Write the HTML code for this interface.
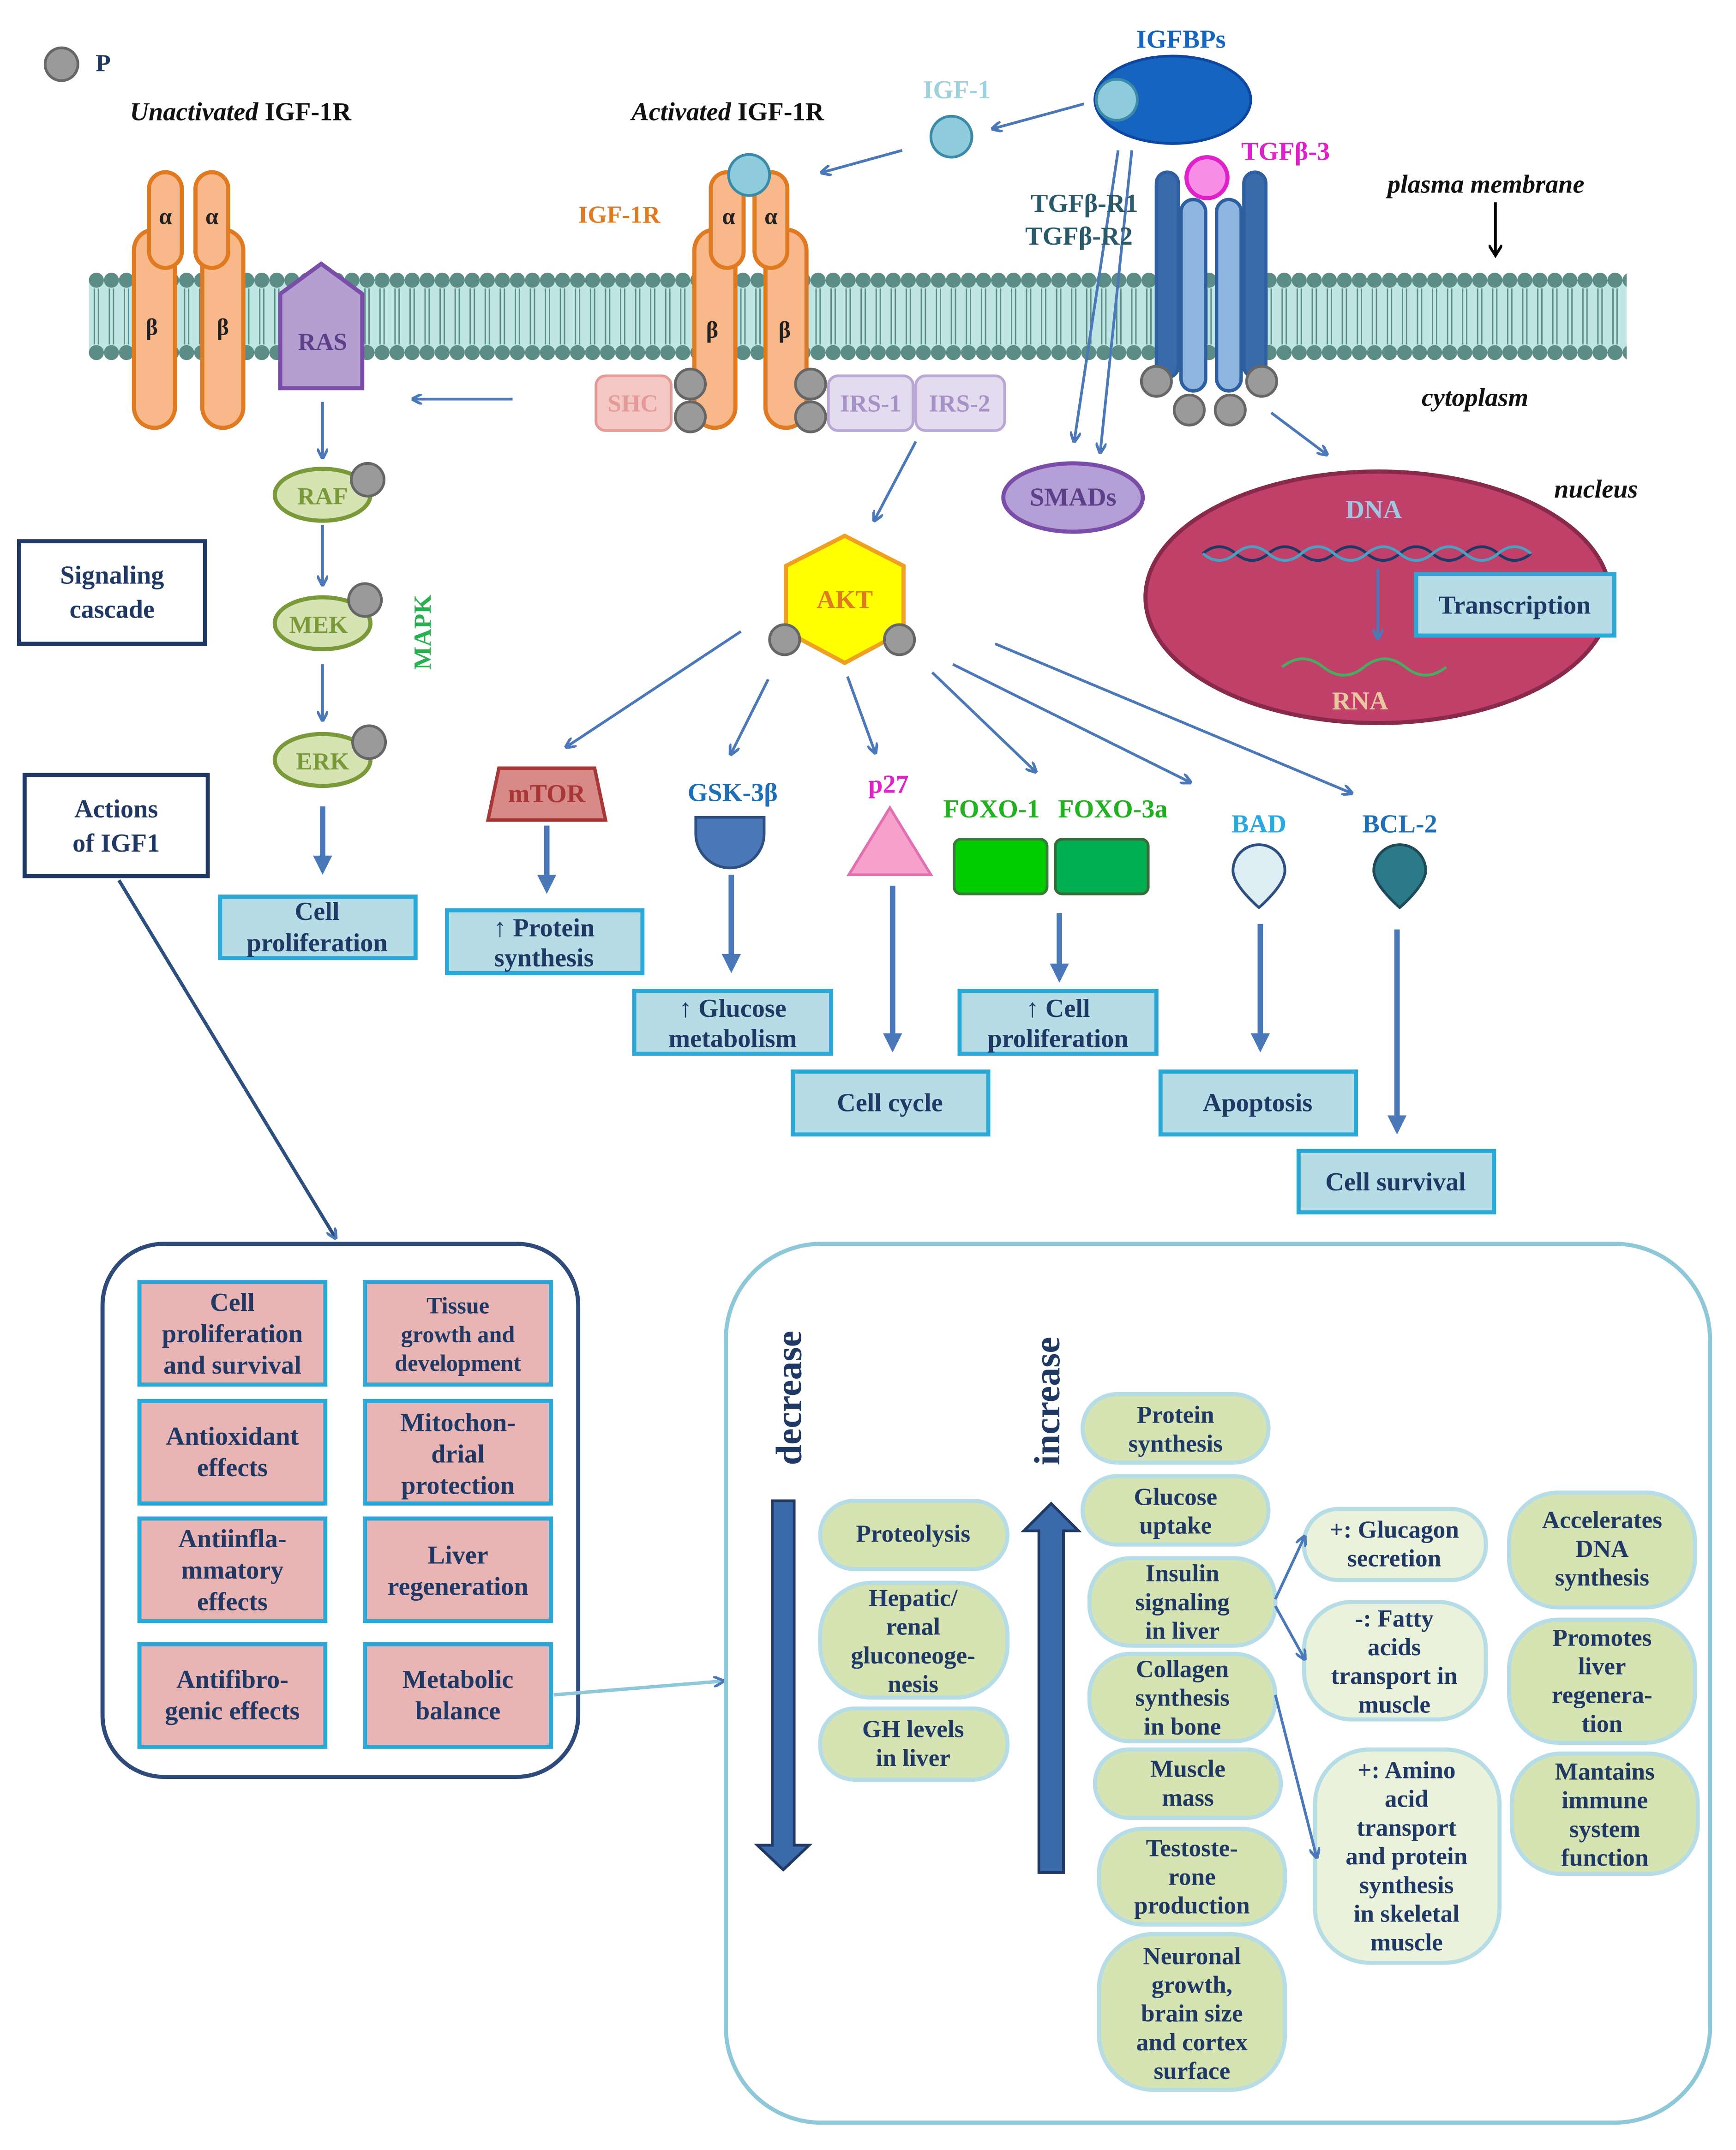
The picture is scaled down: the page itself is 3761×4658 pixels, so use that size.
<!DOCTYPE html>
<html><head><meta charset="utf-8"><style>
html,body{margin:0;padding:0;background:#fff}
svg{display:block}
text{font-family:"Liberation Serif",serif;font-weight:bold}
</style></head><body>
<svg width="3761" height="4658" viewBox="0 0 1270 1573" preserveAspectRatio="none" xmlns="http://www.w3.org/2000/svg">
<defs>
<marker id="ah" markerWidth="8" markerHeight="8" refX="6" refY="4" orient="auto" markerUnits="userSpaceOnUse"><path d="M0,0 L8,4 L0,8" fill="none" stroke="#4a78b8" stroke-width="2"/></marker>
<marker id="ab" markerWidth="14" markerHeight="14" refX="10" refY="7" orient="auto" markerUnits="userSpaceOnUse"><path d="M0,0 L14,7 L0,14 z" fill="#4a78b8"/></marker>
<marker id="ak" markerWidth="10" markerHeight="10" refX="7" refY="5" orient="auto" markerUnits="userSpaceOnUse"><path d="M0,0 L8,5 L0,10" fill="none" stroke="#000" stroke-width="2"/></marker>
<pattern id="bead" x="65" y="0" width="11" height="400" patternUnits="userSpaceOnUse">
<circle cx="5.5" cy="205" r="5.5" fill="#5c8c86"/><circle cx="5.5" cy="258" r="5.5" fill="#5c8c86"/>
<path d="M4,211 V252 M7,211 V252" stroke="#5c8c86" stroke-width="1"/>
</pattern>
</defs>
<rect x="65" y="205" width="1125" height="53" fill="#bfe6e4"/>
<rect x="65" y="198" width="1125" height="67" fill="url(#bead)"/>

<circle cx="45" cy="47" r="12" fill="#9a9a9a" stroke="#666" stroke-width="2"/>
<text x="70" y="52" font-size="18" fill="#1f3864">P</text>
<text x="95" y="88" font-size="19" fill="#111"><tspan font-style="italic">Unactivated</tspan> IGF-1R</text>
<text x="462" y="88" font-size="19" fill="#111"><tspan font-style="italic">Activated</tspan> IGF-1R</text>
<text x="1015" y="141" font-size="19" fill="#111" font-style="italic">plasma membrane</text>
<line x1="1094" y1="148" x2="1094" y2="186" stroke="#000" stroke-width="2" marker-end="url(#ak)"/>
<text x="1040" y="297" font-size="19" fill="#111" font-style="italic">cytoplasm</text>
<text x="1137" y="364" font-size="19" fill="#111" font-style="italic">nucleus</text>

<g fill="#f9b88a" stroke="#e07a20" stroke-width="3">
<rect x="98" y="168" width="30" height="145" rx="15"/><rect x="148" y="168" width="30" height="145" rx="15"/>
<rect x="109" y="126" width="24" height="70" rx="12"/><rect x="143" y="126" width="24" height="70" rx="12"/>
<rect x="508" y="168" width="30" height="145" rx="15"/><rect x="560" y="168" width="30" height="145" rx="15"/>
<rect x="520" y="126" width="24" height="70" rx="12"/><rect x="552" y="126" width="24" height="70" rx="12"/>
</g>
<g font-size="17" fill="#222" text-anchor="middle">
<text x="121" y="164">α</text><text x="155" y="164">α</text><text x="111" y="245">β</text><text x="163" y="245">β</text>
<text x="533" y="164">α</text><text x="564" y="164">α</text><text x="521" y="247">β</text><text x="574" y="247">β</text>
</g>
<circle cx="548" cy="128" r="15" fill="#8ecbdc" stroke="#3a8aa8" stroke-width="2"/>
<text x="423" y="163" font-size="18" fill="#e07a20">IGF-1R</text>
<path d="M205,215 L235,193 L265,215 L265,284 L205,284 z" fill="#b49fd0" stroke="#7a4ea8" stroke-width="3"/>
<text x="236" y="256" font-size="18" fill="#5e3f8a" text-anchor="middle">RAS</text>
<line x1="375" y1="292" x2="303" y2="292" stroke="#4a78b8" stroke-width="2" marker-end="url(#ah)"/>
<rect x="436" y="275" width="55" height="40" rx="7" fill="#f4c8c4" stroke="#e59a98" stroke-width="2"/>
<text x="463" y="301" font-size="18" fill="#e59a98" text-anchor="middle">SHC</text>
<rect x="606" y="275" width="62" height="40" rx="7" fill="#e3dcee" stroke="#b8a6d4" stroke-width="2"/>
<text x="637" y="301" font-size="18" fill="#a692c8" text-anchor="middle">IRS-1</text>
<rect x="670" y="275" width="65" height="40" rx="7" fill="#e3dcee" stroke="#b8a6d4" stroke-width="2"/>
<text x="702" y="301" font-size="18" fill="#a692c8" text-anchor="middle">IRS-2</text>
<g fill="#9a9a9a" stroke="#666" stroke-width="2">
<circle cx="505" cy="281" r="11"/><circle cx="505" cy="305" r="11"/><circle cx="593" cy="281" r="11"/><circle cx="593" cy="305" r="11"/>
</g>
<ellipse cx="858" cy="73" rx="57" ry="32" fill="#1565c0" stroke="#0d47a1" stroke-width="2"/>
<circle cx="817" cy="73" r="15" fill="#8ecbdc" stroke="#3a8aa8" stroke-width="2"/>
<text x="864" y="35" font-size="19" fill="#1565c0" text-anchor="middle">IGFBPs</text>
<circle cx="696" cy="100" r="15" fill="#8ecbdc" stroke="#3a8aa8" stroke-width="2"/>
<text x="700" y="72" font-size="19" fill="#9dd2dc" text-anchor="middle">IGF-1</text>
<line x1="793" y1="76" x2="727" y2="94" stroke="#4a78b8" stroke-width="2" marker-end="url(#ah)"/>
<line x1="660" y1="110" x2="602" y2="126" stroke="#4a78b8" stroke-width="2" marker-end="url(#ah)"/>
<line x1="818" y1="110" x2="786" y2="322" stroke="#4a78b8" stroke-width="2" marker-end="url(#ah)"/>
<line x1="828" y1="110" x2="805" y2="330" stroke="#4a78b8" stroke-width="2" marker-end="url(#ah)"/>
<g stroke="#2e5fa0" stroke-width="2.5">
<rect x="846" y="126" width="16" height="150" rx="8" fill="#3a6aaa"/>
<rect x="864" y="146" width="18" height="140" rx="9" fill="#8fb6e0"/>
<rect x="890" y="146" width="18" height="140" rx="9" fill="#8fb6e0"/>
<rect x="910" y="126" width="16" height="150" rx="8" fill="#3a6aaa"/>
</g>
<circle cx="883" cy="130" r="15" fill="#f88ee8" stroke="#e020c8" stroke-width="3"/>
<text x="908" y="117" font-size="19" fill="#e020c8">TGFβ-3</text>
<text x="754" y="155" font-size="19" fill="#2a5a6a">TGFβ-R1</text>
<text x="750" y="179" font-size="19" fill="#2a5a6a">TGFβ-R2</text>
<g fill="#9a9a9a" stroke="#666" stroke-width="2">
<circle cx="846" cy="279" r="11"/><circle cx="870" cy="300" r="11"/><circle cx="900" cy="300" r="11"/><circle cx="923" cy="279" r="11"/>
</g>
<line x1="930" y1="302" x2="970" y2="332" stroke="#4a78b8" stroke-width="2" marker-end="url(#ah)"/>
<ellipse cx="1008" cy="437" rx="170" ry="92" fill="#c0406a" stroke="#8a2a4a" stroke-width="3"/>
<text x="1005" y="379" font-size="19" fill="#9ec8e0" text-anchor="middle">DNA</text>
<path d="M880,405 q12,-10 24,0 t24,0 t24,0 t24,0 t24,0 t24,0 t24,0 t24,0 t24,0 t24,0" fill="none" stroke="#1f3864" stroke-width="2"/>
<path d="M880,405 q12,10 24,0 t24,0 t24,0 t24,0 t24,0 t24,0 t24,0 t24,0 t24,0 t24,0" fill="none" stroke="#4aa0c0" stroke-width="2"/>
<line x1="1008" y1="416" x2="1008" y2="466" stroke="#4a78b8" stroke-width="2" marker-end="url(#ah)"/>
<path d="M938,488 q15,-12 30,0 t30,0 t30,0 t30,0" fill="none" stroke="#4aaa60" stroke-width="2"/>
<text x="995" y="519" font-size="19" fill="#e8c8a0" text-anchor="middle">RNA</text>
<rect x="1036" y="420" width="145" height="45" fill="#b6dce6" stroke="#2aa8d8" stroke-width="3"/>
<text x="1108" y="449" font-size="19" fill="#1f3864" text-anchor="middle">Transcription</text>
<ellipse cx="785" cy="364" rx="51" ry="25" fill="#b4a0d6" stroke="#7a4ea8" stroke-width="3"/>
<text x="785" y="370" font-size="19" fill="#5e3f8a" text-anchor="middle">SMADs</text>
<g stroke="#4a78b8" stroke-width="2" marker-end="url(#ah)">
<line x1="236" y1="294" x2="236" y2="334"/><line x1="236" y1="384" x2="236" y2="427"/><line x1="236" y1="486" x2="236" y2="526"/>
</g>
<g fill="#d6e3b2" stroke="#7a9a3a" stroke-width="3">
<ellipse cx="236" cy="362" rx="35" ry="19"/><ellipse cx="236" cy="456" rx="35" ry="19"/><ellipse cx="236" cy="556" rx="35" ry="19"/>
</g>
<g font-size="18" fill="#7a9a3a" text-anchor="middle"><text x="236" y="369">RAF</text><text x="233" y="463">MEK</text><text x="236" y="563">ERK</text></g>
<g fill="#9a9a9a" stroke="#666" stroke-width="2"><circle cx="269" cy="351" r="12"/><circle cx="267" cy="439" r="12"/><circle cx="270" cy="543" r="12"/></g>
<text x="315" y="490" font-size="18" fill="#2ab050" transform="rotate(-90 315 490)">MAPK</text>
<line x1="236" y1="590" x2="236" y2="636" stroke="#4a78b8" stroke-width="4" marker-end="url(#ab)"/>
<rect x="14" y="396" width="136" height="75" fill="#fff" stroke="#1f3864" stroke-width="3"/>
<text x="82" y="427" font-size="19" fill="#1f3864" text-anchor="middle">Signaling</text>
<text x="82" y="452" font-size="19" fill="#1f3864" text-anchor="middle">cascade</text>
<rect x="18" y="567" width="134" height="74" fill="#fff" stroke="#1f3864" stroke-width="3"/>
<text x="85" y="598" font-size="19" fill="#1f3864" text-anchor="middle">Actions</text>
<text x="85" y="623" font-size="19" fill="#1f3864" text-anchor="middle">of IGF1</text>
<line x1="87" y1="644" x2="245" y2="905" stroke="#2e5080" stroke-width="2.5" marker-end="url(#ah)"/>
<line x1="670" y1="323" x2="640" y2="380" stroke="#4a78b8" stroke-width="2" marker-end="url(#ah)"/>
<path d="M618,392 L661,414 L661,462 L618,485 L575,462 L575,414 z" fill="#ffff00" stroke="#f0a020" stroke-width="3"/>
<text x="618" y="445" font-size="19" fill="#e07a20" text-anchor="middle">AKT</text>
<g fill="#9a9a9a" stroke="#666" stroke-width="2"><circle cx="574" cy="468" r="11"/><circle cx="658" cy="468" r="11"/></g>
<g stroke="#4a78b8" stroke-width="2" marker-end="url(#ah)">
<line x1="542" y1="462" x2="415" y2="546"/>
<line x1="562" y1="497" x2="535" y2="551"/>
<line x1="620" y1="495" x2="640" y2="550"/>
<line x1="682" y1="492" x2="757" y2="564"/>
<line x1="697" y1="486" x2="870" y2="572"/>
<line x1="728" y1="471" x2="988" y2="580"/>
</g>
<path d="M365,562 L435,562 L443,600 L357,600 z" fill="#d88a88" stroke="#a83838" stroke-width="2.5"/>
<text x="400" y="587" font-size="19" fill="#a83838" text-anchor="middle">mTOR</text>
<text x="536" y="586" font-size="19" fill="#1f6fb8" text-anchor="middle">GSK-3β</text>
<path d="M509,598 H559 V610 A25,25 0 0 1 509,610 z" fill="#4a78b8" stroke="#2e5080" stroke-width="2"/>
<text x="650" y="580" font-size="19" fill="#e020c8" text-anchor="middle">p27</text>
<path d="M651,591 L681,640 L621,640 z" fill="#f8a0cc" stroke="#e070b0" stroke-width="2"/>
<text x="690" y="598" font-size="19" fill="#20b020">FOXO-1</text>
<text x="774" y="598" font-size="19" fill="#20b020">FOXO-3a</text>
<rect x="698" y="614" width="68" height="40" rx="5" fill="#00cc00" stroke="#3a7a3a" stroke-width="2"/>
<rect x="772" y="614" width="68" height="40" rx="5" fill="#00b050" stroke="#3a6a3a" stroke-width="2"/>
<text x="921" y="609" font-size="19" fill="#2aa8e0" text-anchor="middle">BAD</text>
<path d="M921,664 C921,664 902,648 902,637 A19,19 0 1 1 940,637 C940,648 921,664 921,664 z" fill="#dceef4" stroke="#2e5080" stroke-width="2"/>
<text x="1024" y="609" font-size="19" fill="#1f6fb8" text-anchor="middle">BCL-2</text>
<path d="M1024,664 C1024,664 1005,648 1005,637 A19,19 0 1 1 1043,637 C1043,648 1024,664 1024,664 z" fill="#2a7a8a" stroke="#1f4a5a" stroke-width="2"/>
<g stroke="#4a78b8" stroke-width="4" marker-end="url(#ab)">
<line x1="400" y1="604" x2="400" y2="650"/>
<line x1="535" y1="640" x2="535" y2="708"/>
<line x1="653" y1="648" x2="653" y2="766"/>
<line x1="775" y1="668" x2="775" y2="715"/>
<line x1="922" y1="676" x2="922" y2="766"/>
<line x1="1022" y1="680" x2="1022" y2="826"/>
</g>
<g fill="#b6dce6" stroke="#2aa8d8" stroke-width="3">
<rect x="161" y="656" width="143" height="45"/><rect x="327" y="666" width="143" height="46"/>
<rect x="464" y="725" width="144" height="46"/><rect x="580" y="784" width="143" height="46"/>
<rect x="702" y="725" width="144" height="46"/><rect x="849" y="784" width="143" height="46"/>
<rect x="950" y="842" width="143" height="45"/>
</g>
<g font-size="19" fill="#1f3864" text-anchor="middle">
<text x="232" y="673">Cell</text><text x="232" y="696">proliferation</text>
<text x="398" y="685">↑ Protein</text><text x="398" y="707">synthesis</text>
<text x="536" y="744">↑ Glucose</text><text x="536" y="766">metabolism</text>
<text x="651" y="813">Cell cycle</text>
<text x="774" y="744">↑ Cell</text><text x="774" y="766">proliferation</text>
<text x="920" y="813">Apoptosis</text>
<text x="1021" y="871">Cell survival</text>
</g>
<rect x="75" y="910" width="348" height="390" rx="45" fill="#fff" stroke="#2e4a7a" stroke-width="3"/>
<g fill="#e8b4b4" stroke="#2aa8d8" stroke-width="3">
<rect x="102" y="938" width="136" height="75"/><rect x="267" y="938" width="136" height="75"/>
<rect x="102" y="1025" width="136" height="75"/><rect x="267" y="1025" width="136" height="75"/>
<rect x="102" y="1111" width="136" height="75"/><rect x="267" y="1111" width="136" height="75"/>
<rect x="102" y="1203" width="136" height="75"/><rect x="267" y="1203" width="136" height="75"/>
</g>
<g font-size="19" fill="#1f3864" text-anchor="middle">
<text x="170" y="959">Cell</text><text x="170" y="982">proliferation</text><text x="170" y="1005">and survival</text>
<text x="335" y="961" font-size="17">Tissue</text><text x="335" y="982" font-size="17">growth and</text><text x="335" y="1003" font-size="17">development</text>
<text x="170" y="1057">Antioxidant</text><text x="170" y="1080">effects</text>
<text x="335" y="1047">Mitochon-</text><text x="335" y="1070">drial</text><text x="335" y="1093">protection</text>
<text x="170" y="1132">Antiinfla-</text><text x="170" y="1155">mmatory</text><text x="170" y="1178">effects</text>
<text x="335" y="1144">Liver</text><text x="335" y="1167">regeneration</text>
<text x="170" y="1235">Antifibro-</text><text x="170" y="1258">genic effects</text>
<text x="335" y="1235">Metabolic</text><text x="335" y="1258">balance</text>
</g>
<line x1="405" y1="1240" x2="528" y2="1230" stroke="#8ec8d8" stroke-width="2.5" marker-end="url(#ah)"/>
<rect x="531" y="910" width="720" height="643" rx="70" fill="#fff" stroke="#8ec8d8" stroke-width="3"/>
<text x="586" y="1072" font-size="27" fill="#1f3864" transform="rotate(-90 586 1072)">decrease</text>
<text x="775" y="1072" font-size="27" fill="#1f3864" transform="rotate(-90 775 1072)">increase</text>
<path d="M565,1098 H581 V1350 H592 L573,1368 L554,1350 H565 z" fill="#3a6aaa" stroke="#1f3864" stroke-width="2"/>
<path d="M760,1370 H778 V1120 H789 L769,1100 L749,1120 H760 z" fill="#3a6aaa" stroke="#1f3864" stroke-width="2"/>
<g fill="#d6e3b2" stroke="#b6dce6" stroke-width="3">
<rect x="600" y="1098" width="137" height="50" rx="25"/>
<rect x="600" y="1158" width="137" height="84" rx="38"/>
<rect x="600" y="1250" width="137" height="52" rx="25"/>
<rect x="792" y="1020" width="136" height="50" rx="25"/>
<rect x="792" y="1080" width="136" height="50" rx="25"/>
<rect x="797" y="1140" width="136" height="64" rx="30"/>
<rect x="797" y="1210" width="136" height="64" rx="30"/>
<rect x="801" y="1280" width="136" height="50" rx="25"/>
<rect x="804" y="1338" width="136" height="70" rx="32"/>
<rect x="804" y="1415" width="136" height="114" rx="40"/>
<rect x="1104" y="1092" width="136" height="84" rx="36"/>
<rect x="1104" y="1185" width="136" height="90" rx="36"/>
<rect x="1106" y="1283" width="136" height="88" rx="36"/>
</g>
<g fill="#eaf2dc" stroke="#b6dce6" stroke-width="3">
<rect x="954" y="1104" width="133" height="52" rx="25"/>
<rect x="954" y="1172" width="133" height="86" rx="35"/>
<rect x="962" y="1280" width="135" height="156" rx="40"/>
</g>
<g stroke="#4a78b8" stroke-width="2" fill="none" marker-end="url(#ah)">
<line x1="933" y1="1170" x2="954" y2="1125"/><line x1="933" y1="1175" x2="954" y2="1213"/>
<line x1="933" y1="1240" x2="963" y2="1358"/>
</g>
<g font-size="18" fill="#1f3864" text-anchor="middle">
<text x="668" y="1128">Proteolysis</text>
<text x="668" y="1175">Hepatic/</text><text x="668" y="1196">renal</text><text x="668" y="1217">gluconeoge-</text><text x="668" y="1238">nesis</text>
<text x="668" y="1271">GH levels</text><text x="668" y="1292">in liver</text>
<text x="860" y="1041">Protein</text><text x="860" y="1062">synthesis</text>
<text x="860" y="1101">Glucose</text><text x="860" y="1122">uptake</text>
<text x="865" y="1157">Insulin</text><text x="865" y="1178">signaling</text><text x="865" y="1199">in liver</text>
<text x="865" y="1227">Collagen</text><text x="865" y="1248">synthesis</text><text x="865" y="1269">in bone</text>
<text x="869" y="1300">Muscle</text><text x="869" y="1321">mass</text>
<text x="872" y="1358">Testoste-</text><text x="872" y="1379">rone</text><text x="872" y="1400">production</text>
<text x="872" y="1437">Neuronal</text><text x="872" y="1458">growth,</text><text x="872" y="1479">brain size</text><text x="872" y="1500">and cortex</text><text x="872" y="1521">surface</text>
<text x="1020" y="1125">+: Glucagon</text><text x="1020" y="1146">secretion</text>
<text x="1020" y="1190">-: Fatty</text><text x="1020" y="1211">acids</text><text x="1020" y="1232">transport in</text><text x="1020" y="1253">muscle</text>
<text x="1029" y="1301">+: Amino</text><text x="1029" y="1322">acid</text><text x="1029" y="1343">transport</text><text x="1029" y="1364">and protein</text><text x="1029" y="1385">synthesis</text><text x="1029" y="1406">in skeletal</text><text x="1029" y="1427">muscle</text>
<text x="1172" y="1118">Accelerates</text><text x="1172" y="1139">DNA</text><text x="1172" y="1160">synthesis</text>
<text x="1172" y="1204">Promotes</text><text x="1172" y="1225">liver</text><text x="1172" y="1246">regenera-</text><text x="1172" y="1267">tion</text>
<text x="1174" y="1302">Mantains</text><text x="1174" y="1323">immune</text><text x="1174" y="1344">system</text><text x="1174" y="1365">function</text>
</g>
</svg>
</body></html>
